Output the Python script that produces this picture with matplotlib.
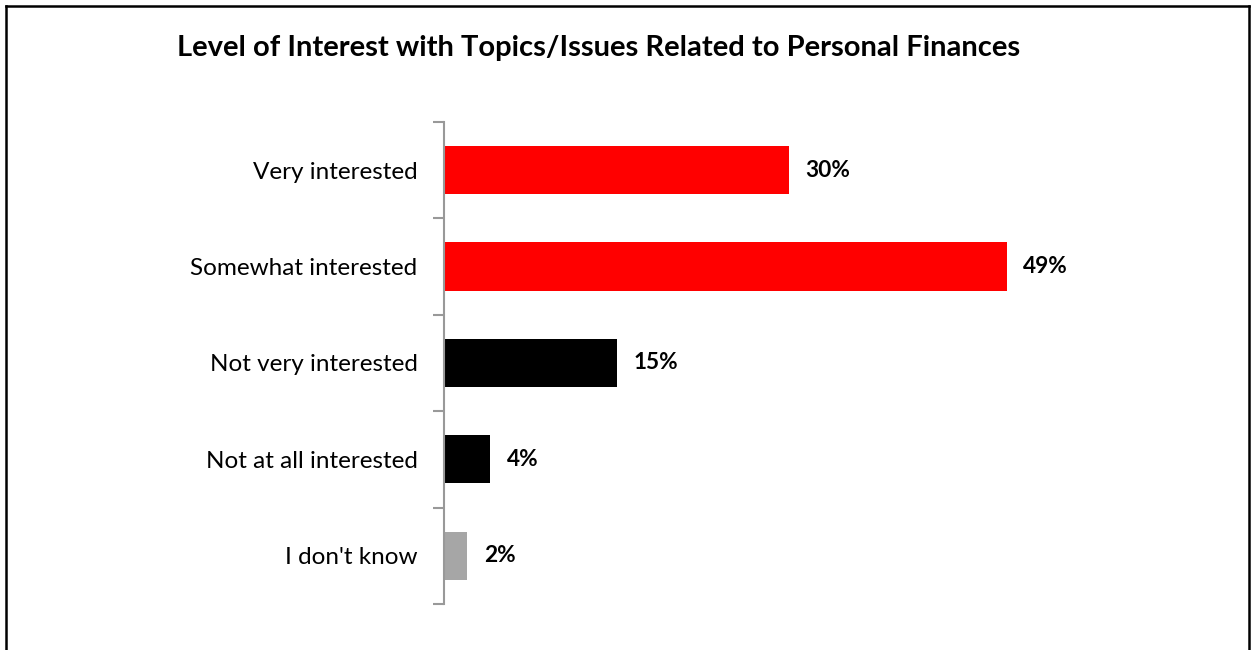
import matplotlib
matplotlib.use('Agg')
import matplotlib.pyplot as plt
from matplotlib.lines import Line2D

plt.rcParams['font.family'] = ['Lato', 'DejaVu Sans']

categories = ['Very interested', 'Somewhat interested', 'Not very interested',
              'Not at all interested', "I don't know"]
values = [30, 49, 15, 4, 2]
colors = ['#ff0000', '#ff0000', '#000000', '#000000', '#a6a6a6']
title = 'Level of Interest with Topics/Issues Related to Personal Finances'

fig = plt.figure(figsize=(12.53, 6.5), dpi=100, facecolor='white')
ax = fig.add_axes([0.3543, 0.0708, 0.5953, 0.7415])

y = list(range(len(categories)))
ax.barh(y, values, height=0.5, color=colors, left=0.05)
ax.set_ylim(len(categories) - 0.5, -0.5)
ax.set_xlim(0, 65)

for yi, v in zip(y, values):
    ax.text(v + 1.5, yi, f'{v}%', va='center', ha='left', fontsize=16.3,
            fontweight='bold', color='black')

ax.set_yticks(y)
ax.set_yticklabels(categories, fontsize=17.5)
ax.tick_params(axis='y', length=0, pad=19)
# category boundary ticks
ax.set_yticks([i - 0.5 for i in range(len(categories) + 1)], minor=True)
ax.tick_params(axis='y', which='minor', length=8, color='#999999', width=1.5)
ax.set_xticks([])

for s in ['top', 'right', 'bottom']:
    ax.spines[s].set_visible(False)
ax.spines['left'].set_color('#999999')
ax.spines['left'].set_linewidth(1.5)

fig.text(0.4777, 0.926, title, ha='center', va='center', fontsize=21, fontweight='bold')

# outer chart border (bottom edge is cut off)
bx0, bx1, by1 = 6 / 1253, 1249 / 1253, 1 - 6 / 650
for xs, ys in [([bx0, bx0], [-0.1, by1]), ([bx0, bx1], [by1, by1]), ([bx1, bx1], [by1, -0.1])]:
    fig.add_artist(Line2D(xs, ys, color='black', linewidth=1.8, transform=fig.transFigure))

fig.savefig('out.png', dpi=100, facecolor='white')
